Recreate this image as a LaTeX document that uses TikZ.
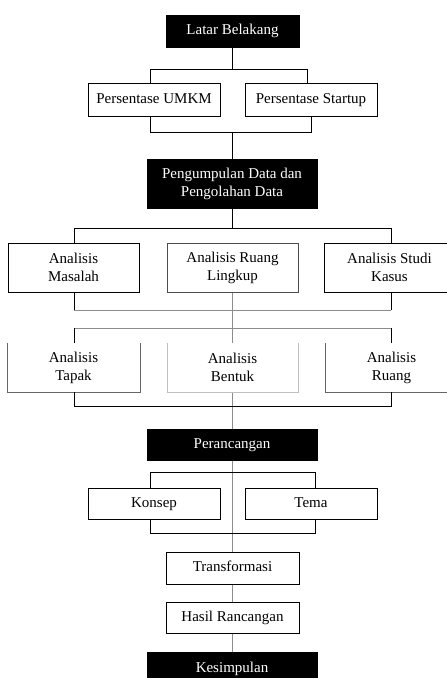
\documentclass[tikz,border=0pt]{standalone}
\usepackage{fontspec}
\setmainfont{Liberation Serif}
\begin{document}
\begin{tikzpicture}[x=1pt,y=-1pt,
  every node/.style={font=\fontsize{15}{18}\selectfont, align=center, inner sep=0pt},
  oneline/.style={text height=10.5pt, text depth=3.5pt},
  darkbox/.style={fill=black, draw=black, text=white},
  whitebox/.style={fill=white, draw=black, line width=0.8pt},
  lightbox/.style={fill=white, draw=black!70, line width=0.6pt},
  conn/.style={draw=black, line width=0.9pt},
  lconn/.style={draw=black!45, line width=0.6pt}]
\useasboundingbox (0,0) rectangle (447,678);
\clip (0,0) rectangle (447,678);

% center gray line (background)
\coordinate (c1) at (232.5,292);
\coordinate (c2) at (232.5,652);
\draw[lconn] (c1) -- (c2);

% Level 1
\node[darkbox, oneline, minimum width=133pt, minimum height=32pt] (latar) at (232.5,31) {Latar Belakang};
\node[whitebox, oneline, minimum width=132pt, minimum height=33pt] (umkm) at (154,99.5) {Persentase UMKM};
\node[whitebox, oneline, minimum width=132pt, minimum height=33pt] (startup) at (311,99.5) {Persentase Startup};
\node[darkbox, minimum width=170pt, minimum height=49pt] (kumpul) at (232,183.5) {Pengumpulan Data dan\\Pengolahan Data};

% brackets level 1
\coordinate (b1l) at (150,69); \coordinate (b1r) at (307,69);
\coordinate (b1c) at (232.5,69);
\draw[conn] (latar.south) -- (b1c);
\draw[conn] (b1l |- umkm.north) -- (b1l) -- (b1r) -- (b1r |- startup.north);
\coordinate (b2l) at (150,132); \coordinate (b2r) at (311,132);
\coordinate (b2c) at (232.5,132);
\draw[conn] (b2l |- umkm.south) -- (b2l) -- (b2r) -- (b2r |- startup.south);
\draw[conn] (b2c) -- (b2c |- kumpul.north);

% Row 1
\node[whitebox, minimum width=131pt, minimum height=49pt] (masalah) at (73.5,267.5) {Analisis\\Masalah};
\node[lightbox, minimum width=131pt, minimum height=49pt] (lingkup) at (232.5,267.5) {Analisis Ruang\\Lingkup};
\node[whitebox, minimum width=131pt, minimum height=49pt] (studi) at (389.5,267.5) {Analisis Studi\\Kasus};

\coordinate (b3l) at (74,228); \coordinate (b3r) at (391,228);
\draw[conn] (kumpul.south) -- (kumpul.south |- b3l);
\draw[conn] (b3l |- masalah.north) -- (b3l) -- (b3r) -- (b3r |- studi.north);
\coordinate (b4l) at (74,310); \coordinate (b4r) at (391,310);
\draw[conn] (b4l |- masalah.south) -- (b4l);
\draw[conn] (b4r |- studi.south) -- (b4r);
\draw[lconn] (b4l) -- (b4r);

% Row 2 (open top boxes)
\node[minimum width=133pt, minimum height=49pt] (tapak) at (73.5,367.5) {Analisis\\Tapak};
\node[fill=white, minimum width=131pt, minimum height=49pt] (bentuk) at (232.5,367.5) {Analisis\\Bentuk};
\node[minimum width=133pt, minimum height=49pt] (ruang) at (391.5,367.5) {Analisis\\Ruang};
\draw[draw=black!60, line width=0.6pt] (tapak.north west) -- (tapak.south west) -- (tapak.south east) -- (tapak.north east);
\draw[draw=black!25, line width=0.6pt] (bentuk.north west) -- (bentuk.south west) -- (bentuk.south east) -- (bentuk.north east);
\draw[draw=black!60, line width=0.6pt] (ruang.north west) -- (ruang.south west) -- (ruang.south east) -- (ruang.north east);

\coordinate (b5l) at (74,328); \coordinate (b5r) at (391,328);
\draw[lconn] (b5l) -- (b5r);
\draw[conn] (b5l) -- (b5l |- tapak.north);
\draw[conn] (b5r) -- (b5r |- ruang.north);
\coordinate (b6l) at (74,406); \coordinate (b6r) at (391,406);
\draw[conn] (b6l |- tapak.south) -- (b6l) -- (b6r) -- (b6r |- ruang.south);

% Perancangan
\node[darkbox, oneline, minimum width=170pt, minimum height=31pt] (rancang) at (232,444.5) {Perancangan};

\node[whitebox, oneline, minimum width=132pt, minimum height=31pt] (konsep) at (154,503.5) {Konsep};
\node[whitebox, oneline, minimum width=132pt, minimum height=31pt] (tema) at (311,503.5) {Tema};
\coordinate (b7l) at (150,472); \coordinate (b7r) at (315,472);
\draw[conn] (b7l |- konsep.north) -- (b7l) -- (b7r) -- (b7r |- tema.north);
\coordinate (b8l) at (150,533); \coordinate (b8r) at (315,533);
\draw[conn] (b8l |- konsep.south) -- (b8l) -- (b8r) -- (b8r |- tema.south);

\node[whitebox, oneline, minimum width=133pt, minimum height=32pt] (trans) at (232.5,568) {Transformasi};
\node[whitebox, oneline, minimum width=133pt, minimum height=31pt] (hasil) at (232.5,617.5) {Hasil Rancangan};
\node[darkbox, oneline, minimum width=170pt, minimum height=34pt] (simpul) at (232,669) {Kesimpulan};
\end{tikzpicture}
\end{document}
